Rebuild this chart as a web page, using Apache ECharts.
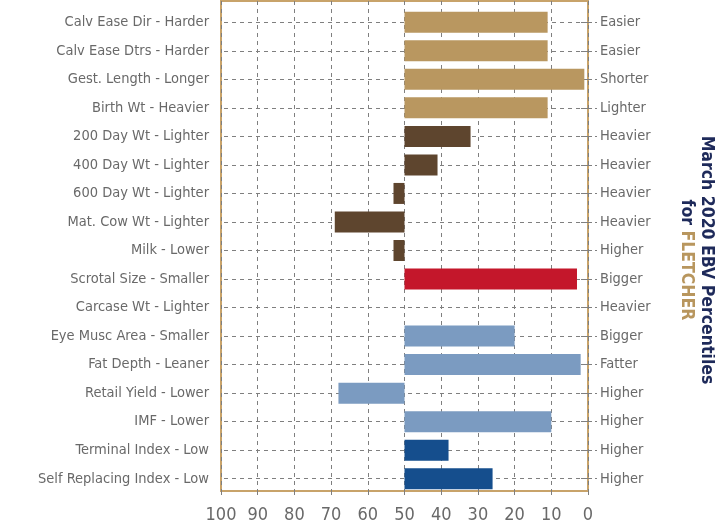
<!DOCTYPE html>
<html>
<head>
<meta charset="utf-8">
<script src="https://cdn.jsdelivr.net/npm/echarts@6/dist/echarts.min.js"></script>
<style>html,body{margin:0;padding:0;background:#fff;}#c{width:715px;height:524px;}</style>
</head>
<body>
<div id="c"></div>
<script>
const leftLabels = ['Calv Ease Dir - Harder','Calv Ease Dtrs - Harder','Gest. Length - Longer','Birth Wt - Heavier','200 Day Wt - Lighter','400 Day Wt - Lighter','600 Day Wt - Lighter','Mat. Cow Wt - Lighter','Milk - Lower','Scrotal Size - Smaller','Carcase Wt - Lighter','Eye Musc Area - Smaller','Fat Depth - Leaner','Retail Yield - Lower','IMF - Lower','Terminal Index - Low','Self Replacing Index - Low'];
const rightLabels = ['Easier','Easier','Shorter','Lighter','Heavier','Heavier','Heavier','Heavier','Higher','Bigger','Heavier','Bigger','Fatter','Higher','Higher','Higher','Higher'];
const percentiles = [11, 11, 1, 11, 32, 41, 53, 69, 53, 3, 50, 20, 2, 68, 10, 38, 26];
const groups = ['calving','calving','calving','calving','growth','growth','growth','growth','growth','fertility','carcase','carcase','carcase','carcase','carcase','index','index'];
const xTicks = [0, 10, 20, 30, 40, 50, 60, 70, 80, 90, 100];
const midpoint = 50;

const groupColors = {calving:'#B99760', growth:'#5E452E', fertility:'#C4172B', carcase:'#7B9BC1', index:'#154E8D'};
const FONT = "'Liberation Sans Narrow','DejaVu Sans Condensed','Roboto Condensed',sans-serif";
const GRID_COLOR = '#7f7f7f';
const LABEL_COLOR = '#696969';

const baseData = percentiles.map(v => Math.min(v, midpoint));
const deltaData = percentiles.map((v, i) => ({value: Math.abs(v - midpoint), itemStyle: {color: groupColors[groups[i]]}}));

const chart = echarts.init(document.getElementById('c'), null, {renderer: 'canvas'});
chart.setOption({
  animation: false,
  grid: [
    {left: 221, top: 8, width: 367, height: 485, containLabel: false},
    {left: 221, top: 1, width: 367, height: 492, containLabel: false, show: true, borderColor: '#C8A36A', borderWidth: 2, backgroundColor: 'transparent'}
  ],
  xAxis: [
    {gridIndex: 0, type: 'value', min: 0, max: 100, interval: 10, inverse: true, show: false},
    {gridIndex: 1, type: 'value', min: 0, max: 100, interval: 10, inverse: true,
     axisLine: {show: false},
     axisTick: {show: true, length: 8, lineStyle: {color: GRID_COLOR, type: [4, 4]}},
     axisLabel: {color: LABEL_COLOR, fontFamily: FONT, fontSize: 18, margin: 15,
       formatter: v => xTicks.indexOf(v) >= 0 ? String(v) : ''},
     splitLine: {show: true, lineStyle: {color: GRID_COLOR, type: [4, 4], width: 1}}}
  ],
  yAxis: [
    {gridIndex: 0, type: 'category', data: leftLabels, inverse: true, position: 'left',
     axisLine: {show: false},
     axisTick: {show: true, alignWithLabel: true, length: 7, lineStyle: {color: GRID_COLOR}},
     axisLabel: {color: LABEL_COLOR, fontFamily: FONT, fontSize: 14.5, margin: 12},
     splitLine: {show: false}},
    {gridIndex: 0, type: 'category', data: rightLabels, inverse: true, position: 'right',
     axisLine: {show: false},
     axisTick: {show: true, alignWithLabel: true, length: 9, lineStyle: {color: GRID_COLOR, type: [4, 3]}},
     axisLabel: {color: LABEL_COLOR, fontFamily: FONT, fontSize: 14.5, margin: 12},
     splitLine: {show: false}},
    {gridIndex: 1, type: 'value', show: false}
  ],
  series: [
    {type: 'bar', xAxisIndex: 0, yAxisIndex: 0, stack: 'p', data: baseData, barWidth: 21,
     itemStyle: {color: 'transparent'}, silent: true, z: 0,
     markLine: {silent: true, symbol: 'none', label: {show: false}, z: 0,
       lineStyle: {color: GRID_COLOR, type: [4, 4], width: 1},
       data: leftLabels.map(c => ({yAxis: c}))}},
    {type: 'bar', xAxisIndex: 0, yAxisIndex: 0, stack: 'p', data: deltaData, barWidth: 21, z: 6}
  ],
  graphic: [{
    type: 'text', x: 697, y: 260, rotation: -Math.PI / 2, z: 10,
    style: {
      text: '{a|March 2020 EBV Percentiles}\n{a|for }{b|FLETCHER}',
      align: 'center', verticalAlign: 'middle',
      rich: {
        a: {fontFamily: FONT, fontWeight: 'bold', fontSize: 17.5, fill: '#1E2A5A', lineHeight: 20},
        b: {fontFamily: FONT, fontWeight: 'bold', fontSize: 17.5, fill: '#B8965E', lineHeight: 20}
      }
    }
  }]
});
</script>
</body>
</html>
